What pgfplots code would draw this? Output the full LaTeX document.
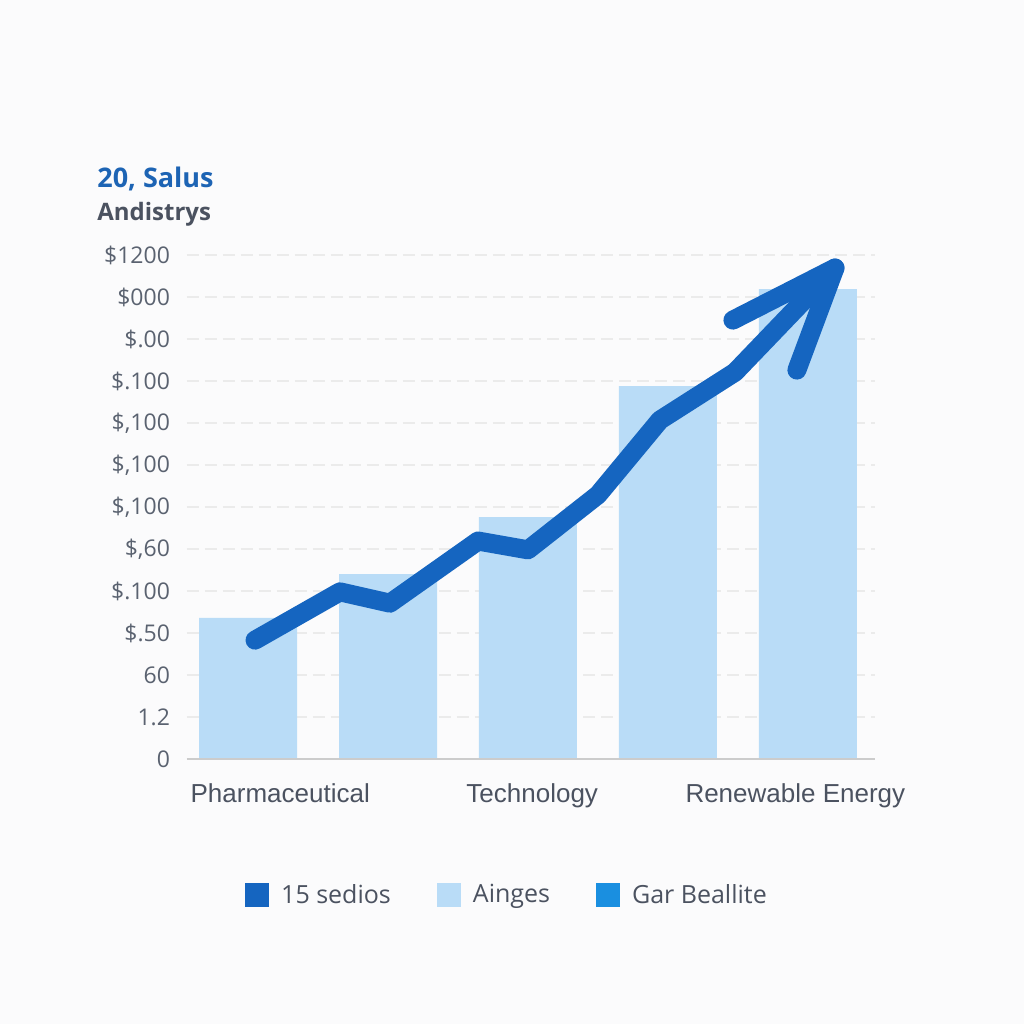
\documentclass[border=0pt]{standalone}
\usepackage{fontspec}
\setmainfont{Open Sans}
\newfontfamily\arialf{Liberation Sans}
\usepackage{pgfplots}
\pgfplotsset{compat=1.18}
\definecolor{barblue}{HTML}{B9DCF7}
\definecolor{lineblue}{HTML}{1565C0}
\definecolor{midblue}{HTML}{1A8FE0}
\definecolor{titleblue}{HTML}{1D64B4}
\definecolor{txtgray}{HTML}{4B5260}
\definecolor{tickgray}{HTML}{5A6270}
\definecolor{bg}{HTML}{FBFBFC}
\begin{document}
\begin{tikzpicture}
\fill[bg] (-93.5pt,-132.5pt) rectangle (418.5pt,379.5pt);
\begin{axis}[
 at={(0,0)}, anchor=south west, scale only axis, width=344pt, height=252pt,
 xmin=-0.436, xmax=4.479, ymin=0, ymax=12,
 axis line style={draw=none},
 clip=false,
 xtick={0.23,2.03,3.91},
 xticklabels={Pharmaceutical,Technology,Renewable Energy},
 ytick={0,1,2,3,4,5,6,7,8,9,10,11,12},
 yticklabels={0,1.2,60,\$.50,\$.100,{\$,60},{\$,100},{\$,100},{\$,100},\$.100,\$.00,\$000,\$1200},
 major tick length=0pt,
 ymajorgrids, grid style={dash pattern=on 6pt off 3pt, black!8, line width=0.6pt},
 yticklabel style={font=\fontsize{11.5}{13}\selectfont, text=tickgray, xshift=-5pt},
 xticklabel style={font=\arialf\fontsize{13}{15}\selectfont, text=txtgray, yshift=-9pt},
 legend style={at={(0.4666,-0.27)}, anchor=center, draw=none, fill=none,
   font=\fontsize{12.5}{14}\selectfont, text=txtgray,
   /tikz/every odd column/.append style={column sep=4pt},
   /tikz/every even column/.append style={column sep=21pt}},
 legend columns=3,
 legend image code/.code={\fill[#1, draw=none] (0pt,-6pt) rectangle (12pt,6pt);},
]
\addplot[ybar, bar width=49pt, fill=barblue, draw=none, forget plot]
  coordinates {(0,3.36)(1,4.40)(2,5.76)(3,8.88)(4,11.19)};
\addplot[lineblue, line width=9.5pt, line cap=round, line join=round, forget plot]
  coordinates {(0.05,2.83)(0.657,3.98)(1.014,3.71)(1.643,5.19)(2.0,4.98)(2.5,6.29)(2.943,8.07)(3.479,9.21)(4.193,11.69)};
\addplot[lineblue, line width=9.5pt, line cap=round, line join=round, forget plot]
  coordinates {(3.464,10.45)(4.193,11.69)(3.921,9.26)};
\addlegendimage{fill=lineblue, draw=none}
\addlegendentry{15 sedios}
\addlegendimage{fill=barblue, draw=none}
\addlegendentry{Ainges}
\addlegendimage{fill=midblue, draw=none}
\addlegendentry{Gar Beallite}
\draw[black!20, line width=1pt] (axis cs:-0.436,0) -- (axis cs:4.479,0);
\end{axis}
\node[anchor=base west, inner sep=0pt, font=\bfseries\fontsize{13.5}{16}\selectfont, text=titleblue] at (-45pt,285.5pt) {20, Salus};
\node[anchor=base west, inner sep=0pt, font=\bfseries\fontsize{12}{14}\selectfont, text=txtgray] at (-45pt,269pt) {Andistrys};
\pgfresetboundingbox
\useasboundingbox (-93.5pt,-132.5pt) rectangle (418.5pt,379.5pt);
\end{tikzpicture}
\end{document}
